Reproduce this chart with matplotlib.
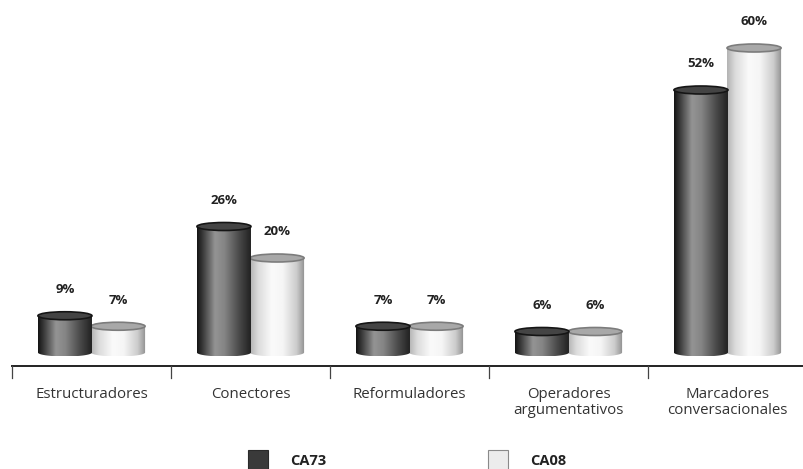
import numpy as np
import matplotlib
matplotlib.use("Agg")
import matplotlib.pyplot as plt
from matplotlib.patches import Ellipse, PathPatch, Rectangle
from matplotlib.path import Path

# ---- data -------------------------------------------------------------
categories = ["Estructuradores", "Conectores", "Reformuladores",
              "Operadores\nargumentativos", "Marcadores\nconversacionales"]
series_names = ["CA73", "CA08"]
ca73 = [9, 26, 7, 6, 52]
ca08 = [7, 20, 7, 6, 60]

# ---- layout -----------------------------------------------------------
W, H, DPI = 804, 469, 100
UNIT_PX = 5.25          # pixels per percentage point
ZERO_PX = 363           # pixel row of the 0 % level
LEFT_PX, CAT_PX = 12, 159
FLOOR = 2.0             # cylinders stand on a raised floor plane
BAR_W = 0.34
ELL_H = 8 / UNIT_PX     # full height of the cylinder caps

fig = plt.figure(figsize=(W / DPI, H / DPI), dpi=DPI)
ax = fig.add_axes([0, 0, 1, 1])
ax.set_axis_off()

font = ["Open Sans", "DejaVu Sans"]

def grad_dark(t):
    xs = [0.0, 0.1, 0.33, 0.5, 0.78, 1.0]
    ys = [0.08, 0.22, 0.58, 0.52, 0.28, 0.12]
    return np.interp(t, xs, ys)

def grad_light(t):
    xs = [0.0, 0.15, 0.4, 0.6, 0.85, 1.0]
    ys = [0.70, 0.86, 0.98, 0.96, 0.80, 0.56]
    return np.interp(t, xs, ys)

def cylinder(xc, value, shade, top_face, top_edge, z):
    x0, x1 = xc - BAR_W / 2, xc + BAR_W / 2
    eh = ELL_H / 2
    th = np.linspace(np.pi, 2 * np.pi, 60)
    bottom = np.column_stack([xc + BAR_W / 2 * np.cos(th), FLOOR + eh * np.sin(th)])
    verts = np.vstack([[x0, value], bottom, [x1, value], [x0, value]])
    codes = [Path.MOVETO] + [Path.LINETO] * (len(verts) - 2) + [Path.CLOSEPOLY]
    clip = PathPatch(Path(verts, codes), facecolor="none", edgecolor="none",
                     transform=ax.transData)
    ax.add_patch(clip)
    t = np.linspace(0, 1, 200)
    img = shade(t)[np.newaxis, :]
    im = ax.imshow(img, extent=(x0, x1, FLOOR - eh, value), aspect="auto",
                   cmap="gray", vmin=0, vmax=1, zorder=z, interpolation="bilinear")
    im.set_clip_path(clip)
    top = Ellipse((xc, value), BAR_W, ELL_H, facecolor=top_face,
                  edgecolor=top_edge, linewidth=1.2, zorder=z + 0.1)
    ax.add_patch(top)

x = np.arange(len(categories))
off = BAR_W / 2 - 0.003
for i in range(len(categories)):
    cylinder(x[i] + off, ca08[i], grad_light, "#a8a8a8", "#7c7c7c", 2)
    cylinder(x[i] - off, ca73[i], grad_dark, "#444444", "#151515", 3)
    ax.text(x[i] - off, ca73[i] + 5.0, f"{ca73[i]}%", ha="center", va="center",
            fontsize=9.5, fontweight="bold", color="#222222", family=font)
    ax.text(x[i] + off, ca08[i] + 5.0, f"{ca08[i]}%", ha="center", va="center",
            fontsize=9.5, fontweight="bold", color="#222222", family=font)

# category axis with separators
axis_y = (ZERO_PX - 366) / UNIT_PX
tick_y = (ZERO_PX - 378) / UNIT_PX
ax.plot([-0.5, len(categories) - 0.5], [axis_y, axis_y], color="#222222", lw=1.4, zorder=4)
for b in np.arange(-0.5, len(categories), 1.0):
    ax.plot([b, b], [axis_y, tick_y], color="#444444", lw=0.9, zorder=4)

label_y = (ZERO_PX - 387) / UNIT_PX
for i, c in enumerate(categories):
    ax.text(x[i], label_y, c, ha="center", va="top", fontsize=10.8,
            color="#333333", family=font, linespacing=1.12)

# axis limits in pixel-matched data units
ax.set_xlim(-0.5 - LEFT_PX / CAT_PX, -0.5 + (W - LEFT_PX) / CAT_PX)
ax.set_ylim((ZERO_PX - H) / UNIT_PX, ZERO_PX / UNIT_PX)

# legend
def px_rect(x0, y0, w, h, **kw):
    fig.add_artist(Rectangle((x0 / W, 1 - (y0 + h) / H), w / W, h / H,
                             transform=fig.transFigure, **kw))

px_rect(248, 450, 20, 20, facecolor="#3a3a3a", edgecolor="#2a2a2a", lw=0.8)
fig.text(290 / W, 1 - 461 / H, series_names[0], ha="left", va="center",
         fontsize=10.5, fontweight="bold", color="#222222", family=font)
px_rect(488, 450, 20, 20, facecolor="#ececec", edgecolor="#8a8a8a", lw=0.8)
fig.text(530 / W, 1 - 461 / H, series_names[1], ha="left", va="center",
         fontsize=10.5, fontweight="bold", color="#222222", family=font)

fig.savefig("out.png", dpi=DPI, facecolor="white")
